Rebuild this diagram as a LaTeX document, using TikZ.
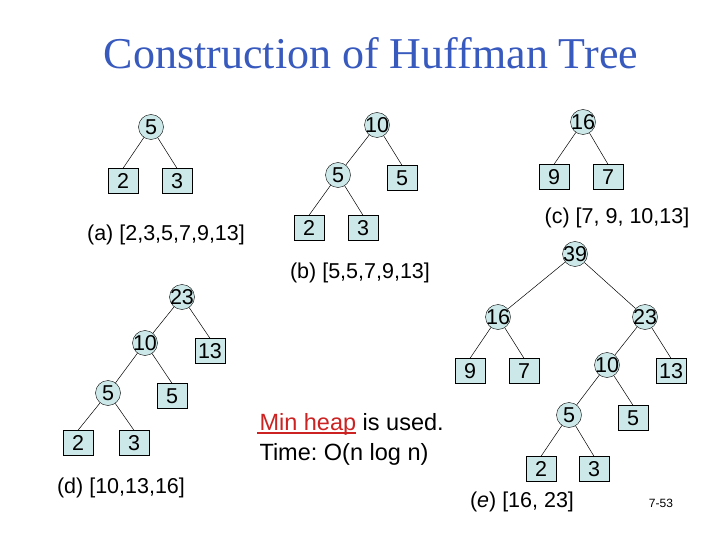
\documentclass[tikz,border=0pt]{standalone}
\usepackage{fontspec}
\setmainfont{Liberation Sans}
\newfontfamily\titlefont{Liberation Serif}
\usepackage{xcolor}
\usetikzlibrary{positioning}
\definecolor{nodefill}{RGB}{204,232,232}
\definecolor{titleblue}{RGB}{56,90,190}
\definecolor{heapred}{RGB}{204,34,34}
\frenchspacing

\begin{document}
\begin{tikzpicture}[x=1pt,y=-1pt, inner/.style={circle,draw,fill=nodefill,minimum size=25pt,inner sep=-4pt,font=\fontsize{21.5}{22}\selectfont}, leaf/.style={rectangle,draw,fill=nodefill,minimum width=30pt,minimum height=25pt,inner sep=0pt,font=\fontsize{21.5}{22}\selectfont}, caption/.style={font=\fontsize{21.5}{22}\selectfont}, edge/.style={line width=0.5pt}]
\useasboundingbox (0,0) rectangle (720,540);
\node[font=\titlefont\fontsize{44}{44}\selectfont,text=titleblue] (title) at (371,53) {Construction of Huffman Tree};
\node[inner] (a5) at (151,127) {5};
\node[leaf] (a2) at (123,181) {2};
\node[leaf] (a3) at (177,181) {3};
\node[caption] (acap) at (166,235) {(a) [2,3,5,7,9,13]};
\draw[edge] (a5) -- (a2.north);
\draw[edge] (a5) -- (a3.north);
\node[inner] (b10) at (377,125) {10};
\node[inner] (b5) at (338,175) {5};
\node[leaf] (b5r) at (402,178) {5};
\node[leaf] (b2) at (309,228) {2};
\node[leaf] (b3) at (363,228) {3};
\node[caption] (bcap) at (360,273) {(b) [5,5,7,9,13]};
\draw[edge] (b10) -- (b5);
\draw[edge] (b10) -- (b5r.north);
\draw[edge] (b5) -- (b2.north);
\draw[edge] (b5) -- (b3.north);
\node[inner] (c16) at (583,122) {16};
\node[leaf] (c9) at (554,177) {9};
\node[leaf] (c7) at (608,177) {7};
\node[caption] (ccap) at (617,218) {(c) [7, 9, 10,13]};
\draw[edge] (c16) -- (c9.north);
\draw[edge] (c16) -- (c7.north);
\node[inner] (d23) at (182,297) {23};
\node[inner] (d10) at (145,343) {10};
\node[leaf] (d13) at (210,351) {13};
\node[inner] (d5) at (108,393) {5};
\node[leaf] (d5r) at (172,396) {5};
\node[leaf] (d2) at (78,443) {2};
\node[leaf] (d3) at (134,443) {3};
\node[caption] (dcap) at (121,488) {(d) [10,13,16]};
\draw[edge] (d23) -- (d10);
\draw[edge] (d23) -- (d13.north);
\draw[edge] (d10) -- (d5);
\draw[edge] (d10) -- (d5r.north);
\draw[edge] (d5) -- (d2.north);
\draw[edge] (d5) -- (d3.north);
\node[inner] (e39) at (575,254) {39};
\node[inner] (e16) at (498,317) {16};
\node[inner] (e23) at (645,317) {23};
\node[leaf] (e9) at (470,371) {9};
\node[leaf] (e7) at (524,371) {7};
\node[inner] (e10) at (607,365) {10};
\node[leaf] (e13) at (671,371) {13};
\node[inner] (e5) at (569,415) {5};
\node[leaf] (e5r) at (633,418) {5};
\node[leaf] (e2) at (541,469) {2};
\node[leaf] (e3) at (594,469) {3};
\node[caption] (ecap) at (522,502) {(\textit{e}) [16, 23]};
\draw[edge] (e39) -- (e16);
\draw[edge] (e39) -- (e23);
\draw[edge] (e16) -- (e9.north);
\draw[edge] (e16) -- (e7.north);
\draw[edge] (e23) -- (e10);
\draw[edge] (e23) -- (e13.north);
\draw[edge] (e10) -- (e5);
\draw[edge] (e10) -- (e5r.north);
\draw[edge] (e5) -- (e2.north);
\draw[edge] (e5) -- (e3.north);
\node[anchor=base west,font=\fontsize{23.5}{24}\selectfont] (heap) at (256,430) {\textcolor{heapred}{Min heap} is used.};
\draw[heapred,line width=1.8pt] (heap.base west) ++(1,3) coordinate (ul) -- ++(99,0);
\node[anchor=base west,font=\fontsize{23.5}{24}\selectfont] (time) at (256,460) {Time: O(n log n)};
\node[font=\fontsize{12}{12}\selectfont] (page) at (661,503) {7-53};
\end{tikzpicture}
\end{document}
